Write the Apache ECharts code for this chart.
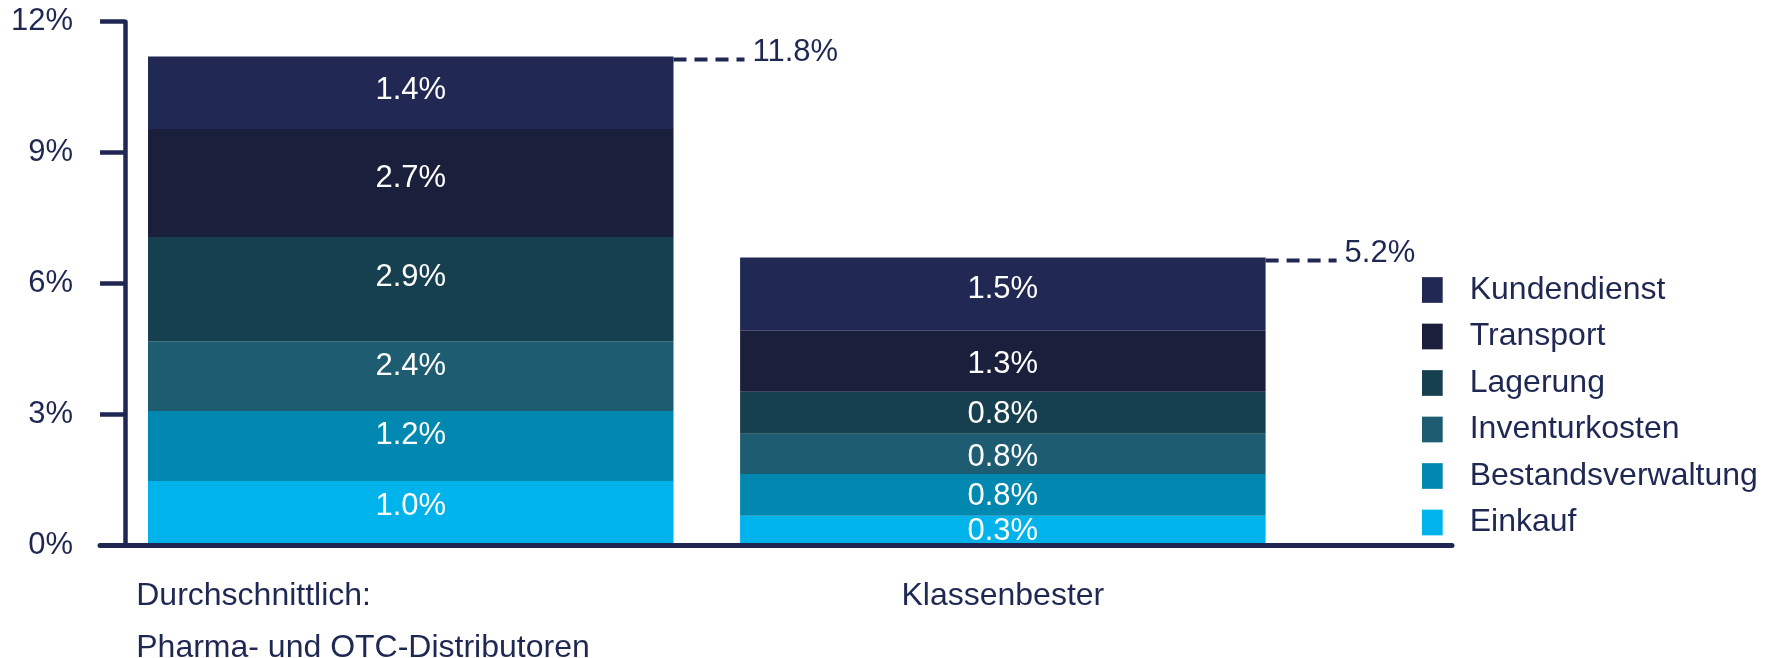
<!DOCTYPE html>
<html>
<head>
<meta charset="utf-8">
<script src="https://cdn.jsdelivr.net/npm/echarts@6/dist/echarts.min.js"></script>
<style>
html,body{margin:0;padding:0;background:#fff;}
#chart{width:1772px;height:658px;}
</style>
</head>
<body>
<div id="chart"></div>
<script>
// ---- data ----
const categories = ['Durchschnittlich:\nPharma- und OTC-Distributoren', 'Klassenbester'];
const seriesNames = ['Einkauf', 'Bestandsverwaltung', 'Inventurkosten', 'Lagerung', 'Transport', 'Kundendienst'];
// segment heights as drawn in the picture (percent)
const einkauf = [1.48, 0.68];
const bestandsverwaltung = [1.60, 0.96];
const inventurkosten = [1.60, 0.92];
const lagerung = [2.39, 0.96];
const transport = [2.47, 1.40];
const kundendienst = [1.66, 1.68];
// value labels printed in the segments
const einkaufLabels = ['1.0', '0.3'];
const bestandsverwaltungLabels = ['1.2', '0.8'];
const inventurkostenLabels = ['2.4', '0.8'];
const lagerungLabels = ['2.9', '0.8'];
const transportLabels = ['2.7', '1.3'];
const kundendienstLabels = ['1.4', '1.5'];
const totalLabels = ['11.8', '5.2'];
const yTicks = [0, 3, 6, 9, 12];

// ---- styles ----
const FONT = "'Liberation Sans', Arial, sans-serif";
const TEXT = '#1f2853';
const AXIS = '#1f2752';
const colors = ['#00b4eb', '#0088b0', '#1e5c72', '#163f4f', '#1a1f3b', '#202853'];
const BAR_W = 525.5;
// vertical nudges of the in-bar labels (px), per series (bottom to top) and bar
const labelNudge = [[-7, 1], [-11, 2], [-10, 4], [-12, 2], [-5, 3], [-2, -5]];

const values = [einkauf, bestandsverwaltung, inventurkosten, lagerung, transport, kundendienst];
const labels = [einkaufLabels, bestandsverwaltungLabels, inventurkostenLabels, lagerungLabels, transportLabels, kundendienstLabels];

const barSeries = seriesNames.map((name, s) => ({
  name: name,
  type: 'bar',
  stack: 'total',
  xAxisIndex: 0, yAxisIndex: 0,
  barWidth: BAR_W,
  itemStyle: { color: colors[s], borderWidth: 0 },
  data: values[s].map((v, i) => ({
    value: v,
    label: { offset: [0, labelNudge[s][i]] }
  })),
  label: {
    show: true,
    position: 'inside',
    color: '#ffffff',
    fontSize: 31,
    fontFamily: FONT,
    formatter: p => labels[s][p.dataIndex] + '%'
  }
}));

const totals = categories.map((c, i) => [i, values.reduce((a, arr) => a + arr[i], 0)]);

const totalSeries = {
  type: 'custom',
  xAxisIndex: 0, yAxisIndex: 0,
  z: 5,
  silent: true,
  data: totals,
  renderItem: function (params, api) {
    const i = api.value(0);
    const p = api.coord([i, api.value(1)]);
    const x0 = p[0] + BAR_W / 2;
    const y = p[1] + 3;
    return {
      type: 'group',
      children: [
        { type: 'line', shape: { x1: x0, y1: y, x2: x0 + 71, y2: y },
          style: { stroke: AXIS, lineWidth: 4, lineDash: [13, 8] } },
        { type: 'text', style: { x: x0 + 79, y: y - 7, text: totalLabels[i] + '%',
          fill: TEXT, fontSize: 31, fontFamily: FONT, align: 'left', verticalAlign: 'middle' } }
      ]
    };
  }
};

const chart = echarts.init(document.getElementById('chart'), null, { renderer: 'canvas' });
chart.setOption({
  animation: false,
  backgroundColor: '#ffffff',
  textStyle: { fontFamily: FONT },
  legend: {
    orient: 'vertical',
    left: 1422,
    top: 274,
    padding: 0,
    itemWidth: 20.7,
    itemHeight: 25.7,
    itemGap: 14.5,
    icon: 'rect',
    selectedMode: false,
    data: seriesNames.slice().reverse(),
    textStyle: { fontSize: 32, color: TEXT, fontFamily: FONT, padding: [0, 0, 0, 22] }
  },
  grid: [
    { left: 114.7, right: 473.1, top: 21.7, bottom: 112.5, outerBoundsMode: 'none', containLabel: false },
    { left: 100, right: 320, top: 21.7, bottom: 112.5, outerBoundsMode: 'none', containLabel: false }
  ],
  xAxis: [
    {
      type: 'category',
      gridIndex: 0,
      data: categories,
      axisLine: { show: false },
      axisTick: { show: false },
      axisLabel: {
        margin: 25,
        interval: 0,
        color: TEXT,
        fontSize: 32,
        fontFamily: FONT,
        formatter: function (v, idx) {
          if (idx === 0) {
            return v.split('\n').map(t => '{l|' + t + '}').join('\n');
          }
          return '{c|' + v + '}';
        },
        rich: {
          l: { width: 549, align: 'left', fontSize: 32, lineHeight: 52, color: TEXT, fontFamily: FONT },
          c: { align: 'center', fontSize: 32, lineHeight: 52, color: TEXT, fontFamily: FONT }
        }
      }
    },
    {
      type: 'value',
      gridIndex: 1,
      min: 0, max: 1,
      z: 10,
      axisLine: { show: true, lineStyle: { color: AXIS, width: 5 } },
      axisTick: { show: false },
      axisLabel: { show: false },
      splitLine: { show: false }
    }
  ],
  yAxis: [
    {
      type: 'value',
      gridIndex: 0,
      min: yTicks[0],
      max: yTicks[yTicks.length - 1],
      interval: yTicks[1] - yTicks[0],
      offset: -10.3,
      axisLine: { show: true, lineStyle: { color: AXIS, width: 4.5 } },
      axisTick: { show: true, length: 25, lineStyle: { color: AXIS, width: 4.5 } },
      splitLine: { show: false },
      axisLabel: { margin: 52, color: TEXT, fontSize: 31, fontFamily: FONT, formatter: '{value}%' }
    },
    {
      type: 'value',
      gridIndex: 1,
      show: false,
      min: 0, max: 1
    }
  ],
  series: barSeries.concat([totalSeries])
});
</script>
</body>
</html>
